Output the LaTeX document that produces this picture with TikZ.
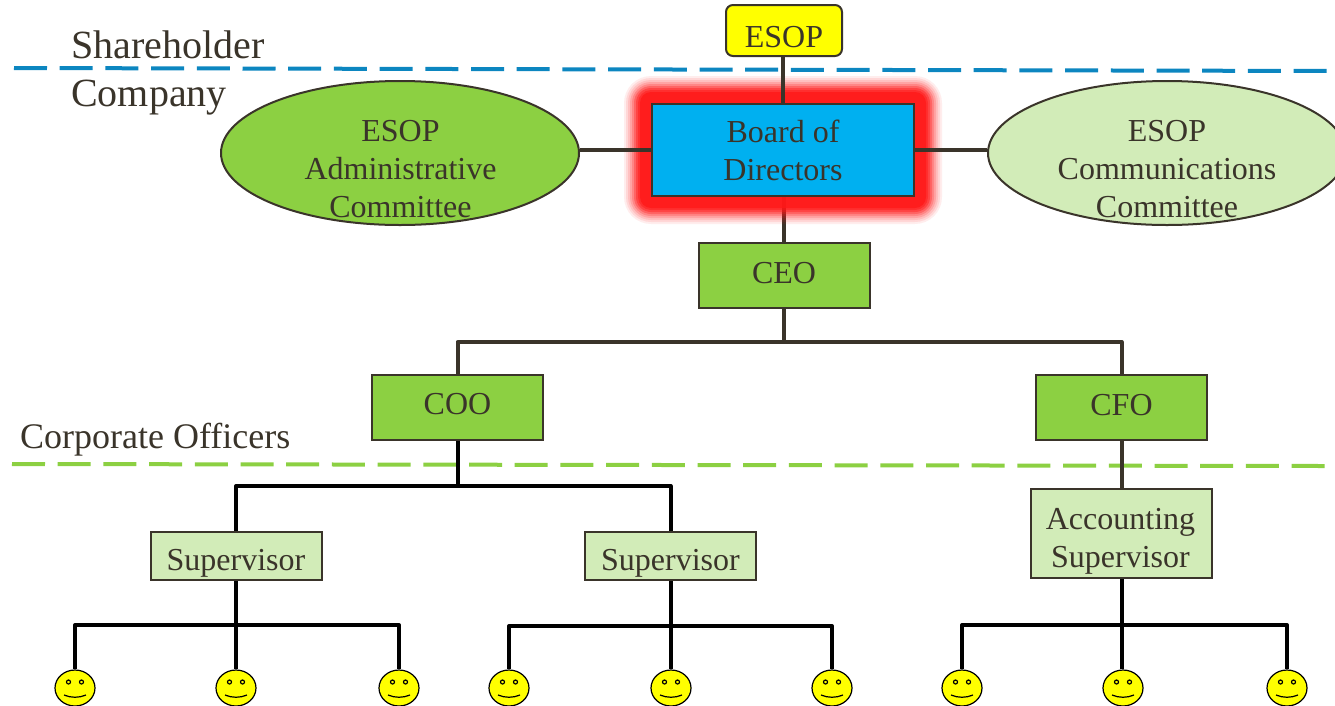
\documentclass[tikz,border=0pt]{standalone}
\usepackage{fontspec}
\setmainfont{Liberation Serif}
\usetikzlibrary{shapes.geometric,backgrounds}
\definecolor{ink}{RGB}{58, 52, 42}
\definecolor{leaf}{RGB}{140, 208, 66}
\definecolor{paleleaf}{RGB}{210, 236, 184}
\definecolor{sky}{RGB}{0, 176, 240}
\definecolor{lemon}{RGB}{255, 255, 0}
\definecolor{ocean}{RGB}{12, 134, 192}
\definecolor{glow}{RGB}{255, 24, 24}
\tikzset{
    x=1pt, y=-1pt,
    every node/.style={text=ink, font=\fontsize{32}{38}\selectfont, align=center, inner sep=0pt},
    box/.style={draw=ink, line width=2pt, minimum width=171pt, minimum height=65pt, fill=leaf},
    subbox/.style={box, fill=paleleaf, minimum height=48pt},
    oval/.style={ellipse, draw=ink, line width=2pt, minimum width=358pt, minimum height=144pt},
    title/.style={anchor=west, font=\fontsize{40}{46}\selectfont},
    wire/.style={draw=ink, line width=4pt},
    blackwire/.style={draw=black, line width=4pt},
    divider/.style={line width=4pt, dash pattern=on 33pt off 12.7pt},
    face/.style={ellipse, draw=black, line width=1.2pt, fill=lemon, minimum width=40pt, minimum height=36pt},
    smiley/.pic={
        \node[face] (-face) at (0,0) {};
        \draw[line width=1.2pt] (-6.5,-6) circle (2pt) (6.5,-6) circle (2pt);
        \draw[line width=1.2pt] (-11,7) .. controls (-4,10) and (4,10) .. (11,7);
    }
}
\begin{document}
\begin{tikzpicture}
    \useasboundingbox (0,0) rectangle (1335,705);
    \clip (0,0) rectangle (1335,705);
    \draw[divider, ocean] (14,68)  -- (1335,71);
    \draw[divider, leaf]  (12,464) -- (1325,466);
    \node[title]                                     (shareholder) at (71,45)    {Shareholder};
    \node[title]                                     (company)     at (71,98)    {Company};
    \node[anchor=west, font=\fontsize{36}{40}\selectfont] (officers) at (20,440) {Corporate Officers};
    \node[box, fill=lemon, rounded corners=7pt, minimum width=116pt, minimum height=51pt, text height=33pt, text depth=0pt] (esop) at (784,30.5) {ESOP};
    \node[box, fill=sky, minimum width=262pt, minimum height=92pt] (board)  at (783,150)  {Board of\\Directors};
    \node[oval, fill=leaf]                           (admin)       at (400,153)  {};
    \node[oval, fill=paleleaf]                       (comms)       at (1167,153) {};
    \node                                            (adminText)   at (400.5,169.5)  {ESOP\\Administrative\\Committee};
    \node                                            (commsText)   at (1167,169.5) {ESOP\\Communications\\Committee};
    \node[box, text height=15pt, text depth=0pt]     (ceo)         at (784,275.5) {CEO};
    \node[box, text height=13pt, text depth=0pt]     (coo)         at (457.5,407.5) {COO};
    \node[box, text height=15pt, text depth=0pt]     (cfo)         at (1121.5,407.5) {CFO};
    \node[subbox, text height=29pt, text depth=0pt]  (superA)      at (236,556)  {Supervisor};
    \node[subbox, text height=29pt, text depth=0pt]  (superB)      at (670.5,556) {Supervisor};
    \node[subbox, minimum width=181pt, minimum height=89pt] (superC) at (1121.5,533.5) {};
    \node                                            (superCText)  at (1120.5,541.5) {Accounting\\Supervisor};
    \begin{scope}[on background layer]
        \draw[wire] (board.south -| ceo.north) -- (ceo.north);
        \foreach \g/\o in {27/.08, 25/.1, 23/.12, 21/.16, 19/.22, 17/.3, 15/.4, 13/.5, 11/.8} {
            \fill[glow, opacity=\o, rounded corners=\g pt]
                ([shift={(-\g,-\g)}]board.north west) rectangle ([shift={(\g,\g)}]board.south east);
        }
        \draw[wire] (esop.south -| board.north)  -- (board.north);
        \draw[wire] (admin.east |- board.west)   -- (board.west);
        \draw[wire] (board.east)  -- (comms.west |- board.east);
    \end{scope}
    \coordinate (ceoBus)   at (784,342);
    \coordinate (cooBus)   at (457.5,486);
    \draw[wire] (ceo.south) -- (ceoBus);
    \draw[wire, line join=round] (coo.north) -- (coo.north |- ceoBus) -- (cfo.north |- ceoBus) -- (cfo.north);
    \draw[blackwire] (coo.south) -- (cooBus);
    \draw[blackwire, line join=round] (superA.north) -- (superA.north |- cooBus) -- (superB.north |- cooBus) -- (superB.north);
    \draw[wire] (cfo.south) -- (superC.north);
    \foreach \boss/\name/\xl/\xm/\xr/\ybus in {superA/a/75/236/399/625, superB/b/509/671/832/626, superC/c/962/1123/1287/625} {
        \pic (\name1) at (\xl,688) {smiley};
        \pic (\name2) at (\xm,688) {smiley};
        \pic (\name3) at (\xr,688) {smiley};
        \coordinate (\name Bus) at (\boss.south |- 0,\ybus);
        \draw[blackwire] (\boss.south) -- (\name Bus |- \name2-face.north);
        \draw[blackwire, line join=round] (\name1-face.north) -- (\name1-face.north |- \name Bus) -- (\name3-face.north |- \name Bus) -- (\name3-face.north);
    }
\end{tikzpicture}
\end{document}
